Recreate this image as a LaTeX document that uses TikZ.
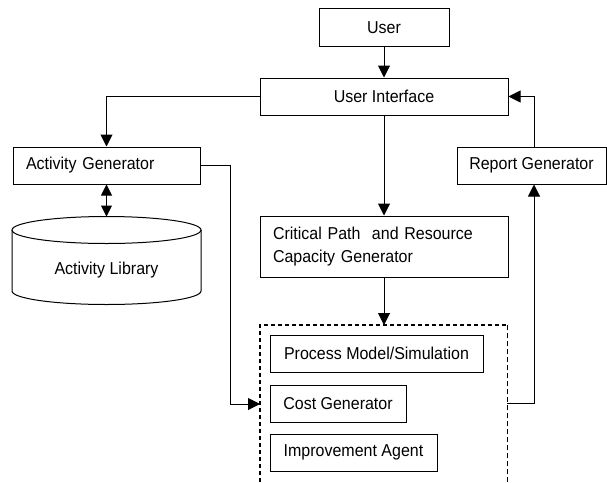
\documentclass[tikz,border=0pt]{standalone}
\usepackage{fontspec}
\setmainfont{Liberation Sans}[FakeStretch=0.93]
\usetikzlibrary{arrows.meta}
\begin{document}
\begin{tikzpicture}[x=1pt,y=-1pt,
  every node/.style={font=\fontsize{17.2}{23}\selectfont},
  box/.style={draw, line width=1pt, rectangle, inner sep=0pt, minimum height=37pt},
  leftbox/.style={box, align=left, inner xsep=13pt, text width=#1},
  conn/.style={line width=1pt, -{Triangle[length=12pt,width=12pt]}},
  both/.style={line width=1pt, {Triangle[length=11pt,width=11pt]}-{Triangle[length=11pt,width=11pt]}},
  grpleft/.style={line width=1.5pt, dash pattern=on 4pt off 3pt},
  grpright/.style={line width=0.7pt, dash pattern=on 5pt off 3pt},
  drum/.style={line width=1pt}]
  \useasboundingbox (0,0) rectangle (607,482);

  % main boxes
  \node[box, minimum width=130pt, minimum height=38pt] (user) at (384,27.5) {User};
  \node[box, minimum width=248pt] (ui) at (384,96.5) {User Interface};
  \node[leftbox=161pt] (actgen) at (106.5,165.5) {Activity Generator};
  \node[box, minimum width=149pt] (rg) at (531.5,165.5) {Report Generator};
  \node[leftbox=222pt, minimum height=61pt] (cp) at (384,246.5)
       {Critical Path\ \ and Resource\\Capacity Generator};

  % activity library drum
  \draw[drum] (106.5,230) ellipse [x radius=94.5, y radius=13.5];
  \draw[drum] (12,230) -- (12,291) arc [start angle=180, end angle=0, x radius=94.5, y radius=13.5] -- (201,230);
  \node (lib) at (106.5,270) {Activity Library};
  \coordinate (libtop) at (106.5,216.5);

  % dashed group, open at the bottom
  \draw[grpleft] (260,482) -- (260,325) -- (507,325);
  \draw[grpright] (507,325) -- (507,482);
  \coordinate (grptop) at (384,325);
  \coordinate (grpwest) at (260,404);
  \coordinate (grpeast) at (507,403);

  \node[box, minimum width=213pt] (pm) at (376.5,353.5) {Process Model/Simulation};
  \node[box, minimum width=136pt] (cg) at (338,403.5) {Cost Generator};
  \node[box, minimum width=167pt] (ia) at (353.5,452.5) {Improvement Agent};

  % connectors
  \coordinate (rgx) at (534,0);
  \coordinate (agx) at (230,0);
  \draw[conn] (user) -- (ui);
  \draw[conn] (ui.west) -| (actgen.north);
  \draw[conn] (ui) -- (cp);
  \draw[conn] (rg.north -| rgx) |- (ui.east);
  \draw[conn] (cp) -- (grptop);
  \draw[both] (actgen.south) -- (libtop);
  \draw[conn] (actgen.east) -| (grpwest -| agx) -- (grpwest);
  \draw[conn] (grpeast) -| (rg.south -| rgx);
\end{tikzpicture}
\end{document}
